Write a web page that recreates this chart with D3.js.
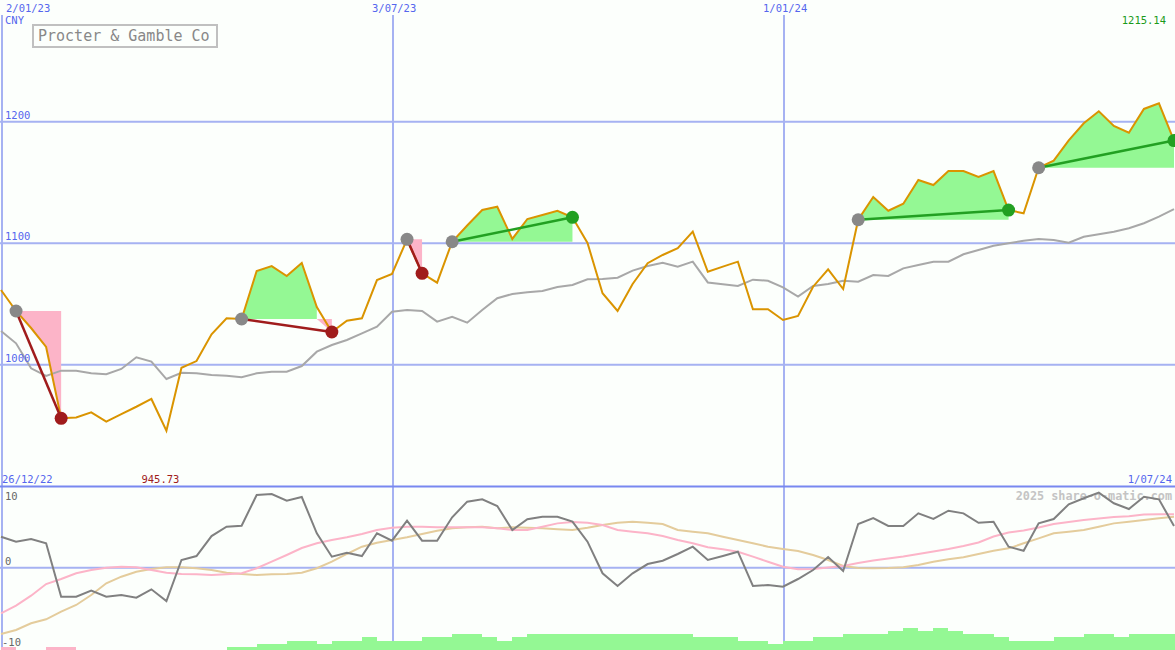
<!DOCTYPE html>
<html><head><meta charset="utf-8">
<script src="https://cdn.jsdelivr.net/npm/d3@7"></script>
<style>body{margin:0;background:#fcfffc;} svg{display:block}</style>
</head><body><svg id="c" width="1175" height="650"></svg>
<script>
// ---- data (weekly, 2/01/23 .. 1/07/24) ----
const price = [1061.5,1044.2,1030.2,1014.6,955.9,956.5,960.8,953.1,959.4,965.4,971.8,945.73,997.5,1003.0,1025.0,1038.2,1037.6,1077.1,1081.2,1073.0,
1083.7,1047.5,1026.9,1036.2,1038.2,1069.7,1074.7,1103.2,1075.2,1067.5,1101.2,1114.6,1127.3,1130.0,1103.5,1119.9,1123.2,1126.7,1121.3,1100.2,
1058.8,1044.2,1066.4,1083.5,1090.3,1096.0,1109.5,1076.5,1080.7,1084.8,1045.6,1045.6,1036.8,1040.1,1064.2,1078.5,1062.3,1119.3,1138.0,1126.7,
1132.5,1152.0,1147.9,1159.4,1159.4,1154.5,1159.4,1127.3,1124.6,1162.1,1167.9,1184.7,1198.7,1208.6,1196.5,1190.9,1210.5,1215.14,1184.5];
const average = [1027.7,1017.6,997.0,990.7,995.1,995.1,992.9,992.1,996.5,1006.1,1002.5,988.2,993.4,992.9,991.5,990.9,989.6,992.9,994.2,994.2,
998.9,1010.7,1016.2,1020.3,1025.8,1031.3,1043.6,1045.0,1044.2,1035.4,1039.5,1034.6,1045.0,1054.7,1058.2,1059.6,1060.7,1064.0,1065.6,1070.3,
1070.5,1071.6,1077.4,1081.2,1083.9,1080.7,1084.8,1067.7,1066.3,1064.8,1070.0,1069.1,1063.7,1056.1,1064.8,1066.4,1069.1,1068.3,1073.8,1073.0,
1079.3,1082.1,1084.8,1084.8,1090.9,1094.4,1097.9,1099.9,1102.1,1103.5,1102.6,1100.4,1105.3,1107.3,1109.5,1112.3,1116.4,1121.8,1128.1];
const momentum = [4.38,3.68,4.06,3.45,-4.10,-4.10,-3.25,-4.10,-3.86,-4.24,-3.06,-4.71,1.09,1.65,4.48,5.80,5.94,10.28,10.42,9.48,
10.0,4.87,1.56,2.12,1.65,4.87,3.82,6.65,3.82,3.82,7.13,9.34,9.67,8.73,5.33,6.85,7.21,7.21,6.51,3.68,
-0.79,-2.59,-0.79,0.52,0.99,1.94,2.97,1.09,1.65,2.26,-2.59,-2.45,-2.69,-1.60,-0.33,1.51,-0.47,6.18,7.03,5.90,
5.90,7.69,6.89,8.06,7.69,6.36,6.51,2.97,2.40,6.28,6.89,8.97,9.82,10.61,9.11,8.30,10.04,9.67,5.90];
const signalFast = [-6.46,-5.37,-3.96,-2.31,-1.60,-0.79,-0.32,0,0.14,0.06,-0.32,-0.71,-0.89,-0.93,-1.03,-0.93,-0.79,-0.08,0.85,1.80,
2.79,3.45,3.92,4.30,4.77,5.33,5.66,5.80,5.80,5.71,5.71,5.71,5.71,5.57,5.33,5.33,5.80,6.27,6.46,6.36,
6.04,5.33,5.09,4.86,4.48,3.92,3.45,2.88,2.60,2.26,1.56,0.85,0.14,-0.23,-0.18,0.03,0.24,0.66,1.02,1.30,
1.58,1.94,2.29,2.64,3.07,3.56,4.41,4.98,5.26,5.68,6.18,6.46,6.75,6.96,7.17,7.28,7.52,7.55,7.55];
const signalSlow = [-9.38,-8.81,-7.86,-7.30,-6.22,-5.27,-3.86,-2.20,-1.27,-0.57,-0.18,0.06,0.06,-0.08,-0.32,-0.71,-0.89,-1.03,-0.93,-0.89,
-0.71,-0.08,0.85,1.94,2.97,3.54,3.92,4.30,4.77,5.23,5.57,5.71,5.80,5.57,5.71,5.66,5.57,5.43,5.33,5.66,
6.04,6.36,6.51,6.36,6.18,5.33,5.09,4.86,4.38,3.92,3.45,2.97,2.64,2.36,1.80,1.09,0.24,-0.04,-0.08,-0.04,
0.06,0.38,0.85,1.19,1.47,1.94,2.40,2.74,3.45,4.15,4.86,5.09,5.33,5.80,6.27,6.51,6.75,6.99,7.21];
const volumeBars = [-1,0,0,-1,-1,0,0,0,0,0,0,0,0,0,0,1,1,2,2,3,
3,2,3,3,4,3,3,3,4,4,5,5,4,3,4,5,5,5,5,5,
5,5,5,5,5,5,4,4,4,3,3,2,3,3,4,4,5,5,5,6,
7,6,7,6,5,5,4,3,3,3,4,4,5,5,4,5,5,5,5];
const trendStarts = [1,16,27,30,57,69];
const trendEnds   = [4,22,28,38,67,78];
const xTickIdx = [0,26,52];
const xTickLabels = ["2/01/23","3/07/23","1/01/24"];
const rangeLabels = ["26/12/22","1/07/24"];
const yTicks = [1000,1100,1200];
const y2Ticks = [10,0,-10];
const title = "Procter & Gamble Co";
const currency = "CNY";

// ---- drawing ----
const W = 1175, H = 650;
const svg = d3.select("#c");
const x = d3.scaleLinear().domain([0, price.length - 1]).range([1, 1174]);
const y = d3.scaleLinear().domain([1000, 1200]).range([364.7, 121.7]);
const y2 = d3.scaleLinear().domain([0, 10]).range([567.7, 497]);
const yb = d3.scaleLinear().domain([0, 7]).range([650, 628]);

const BLUE_TXT = "#5566ee", GRID = "#a6b2f2";
const mono = "'DejaVu Sans Mono','Liberation Mono',monospace";

svg.append("rect").attr("width", W).attr("height", H).attr("fill", "#fcfffc");

const txt = (t, px, py, col, anchor, size, weight) => svg.append("text").text(t)
  .attr("x", px).attr("y", py).attr("fill", col).attr("text-anchor", anchor || "start")
  .attr("font-family", mono).attr("font-size", size || 10.5).attr("font-weight", weight || "normal");

// gridlines
svg.append("g").selectAll("line").data(yTicks).join("line")
  .attr("x1", 0).attr("x2", W).attr("y1", d => y(d)).attr("y2", d => y(d))
  .attr("stroke", GRID).attr("stroke-width", 2);
svg.append("g").selectAll("line").data(xTickIdx).join("line")
  .attr("x1", d => x(d) + 1).attr("x2", d => x(d) + 1).attr("y1", 15).attr("y2", H)
  .attr("stroke", GRID).attr("stroke-width", 2);
svg.append("line").attr("x1", 0).attr("x2", W).attr("y1", y2(0)).attr("y2", y2(0))
  .attr("stroke", GRID).attr("stroke-width", 2);

// trend fills
const fillG = svg.append("g");
trendStarts.forEach((s, ti) => {
  const e = trendEnds[ti];
  const level = price[s];
  const runs = [];
  let cur = null;
  for (let k = s; k <= e; k++) {
    if (k === s) { cur = {sign: null, idx: [k], from: k}; continue; }
    const sign = price[k] >= level ? 1 : -1;
    if (cur.sign === null) cur.sign = sign;
    if (sign !== cur.sign) { runs.push(cur); cur = {sign, idx: [k], from: k - 1}; }
    else cur.idx.push(k);
  }
  runs.push(cur);
  runs.forEach(r => {
    const pts = [[x(r.from), y(level)]];
    r.idx.forEach(k => pts.push([x(k), y(price[k])]));
    pts.push([x(r.idx[r.idx.length - 1]), y(level)]);
    fillG.append("path").attr("d", "M" + pts.map(p => p.join(",")).join("L") + "Z")
      .attr("fill", r.sign > 0 ? "#94f894" : "#fcb4c8");
  });
});

// average + price
svg.append("path").datum(average).attr("d", d3.line().x((d, i) => x(i)).y(d => y(d)))
  .attr("fill", "none").attr("stroke", "#a8a8a8").attr("stroke-width", 2);
svg.append("path").datum(price).attr("d", d3.line().x((d, i) => x(i)).y(d => y(d)))
  .attr("fill", "none").attr("stroke", "#da9400").attr("stroke-width", 2);

// trend lines and dots
trendStarts.forEach((s, ti) => {
  const e = trendEnds[ti];
  const up = price[e] > price[s];
  const col = up ? "#22a022" : "#a01c1c";
  svg.append("line").attr("x1", x(s)).attr("y1", y(price[s])).attr("x2", x(e)).attr("y2", y(price[e]))
    .attr("stroke", col).attr("stroke-width", 2.5);
  svg.append("circle").attr("cx", x(s)).attr("cy", y(price[s])).attr("r", 6.5).attr("fill", "#888888");
  svg.append("circle").attr("cx", x(e)).attr("cy", y(price[e])).attr("r", 6.5).attr("fill", col);
});

// separator
svg.append("line").attr("x1", 0).attr("x2", W).attr("y1", 486.5).attr("y2", 486.5)
  .attr("stroke", "#7888f0").attr("stroke-width", 2);

// watermark (behind indicator lines)
txt("2025 share-o-matic.com", 1172, 500, "#c4c4c4", "end", 11.8, "bold");

// volume bars
svg.append("g").selectAll("rect").data(volumeBars).join("rect")
  .attr("x", (d, i) => x(i)).attr("width", (d, i) => Math.max(0, Math.min(W, x(i + 1)) - x(i)))
  .attr("y", d => yb(Math.abs(d))).attr("height", d => yb(0) - yb(Math.abs(d)))
  .attr("fill", d => d < 0 ? "#fcb4c8" : "#94f894").attr("shape-rendering", "crispEdges");

// indicator lines
svg.append("path").datum(signalSlow).attr("d", d3.line().x((d, i) => x(i)).y(d => y2(d)))
  .attr("fill", "none").attr("stroke", "#e4cc9c").attr("stroke-width", 2);
svg.append("path").datum(signalFast).attr("d", d3.line().x((d, i) => x(i)).y(d => y2(d)))
  .attr("fill", "none").attr("stroke", "#fcb4c8").attr("stroke-width", 2);
svg.append("path").datum(momentum).attr("d", d3.line().x((d, i) => x(i)).y(d => y2(d)))
  .attr("fill", "none").attr("stroke", "#808080").attr("stroke-width", 2);

// text
xTickIdx.forEach((k, i) => txt(xTickLabels[i], Math.max(6, x(k) + 1 - 21), 12, BLUE_TXT));
txt(currency, 5, 24, BLUE_TXT);
yTicks.forEach(v => txt(String(v), 5, y(v) - 3, BLUE_TXT));
y2Ticks.forEach(v => txt(String(v), v < 0 ? 2 : 5, v === 0 ? y2(v) - 3 : y2(v) + 3 + (v < 0 ? 5 : 0), "#666666"));
txt(rangeLabels[0], 2, 483, BLUE_TXT);
txt(rangeLabels[1], 1172, 483, BLUE_TXT, "end");
const minI = price.indexOf(d3.min(price));
txt(d3.max(price).toFixed(2), 1166, 24, "#1a9a1a", "end");
txt(d3.min(price).toFixed(2), x(minI) - 6, 483, "#a01c1c", "middle");

// title box
svg.append("rect").attr("x", 33).attr("y", 25).attr("width", 184).attr("height", 22)
  .attr("fill", "#fcfffc").attr("stroke", "#c0c0c0").attr("stroke-width", 2);
txt(title, 38, 41, "#888888", "start", 15);
</script></body></html>
